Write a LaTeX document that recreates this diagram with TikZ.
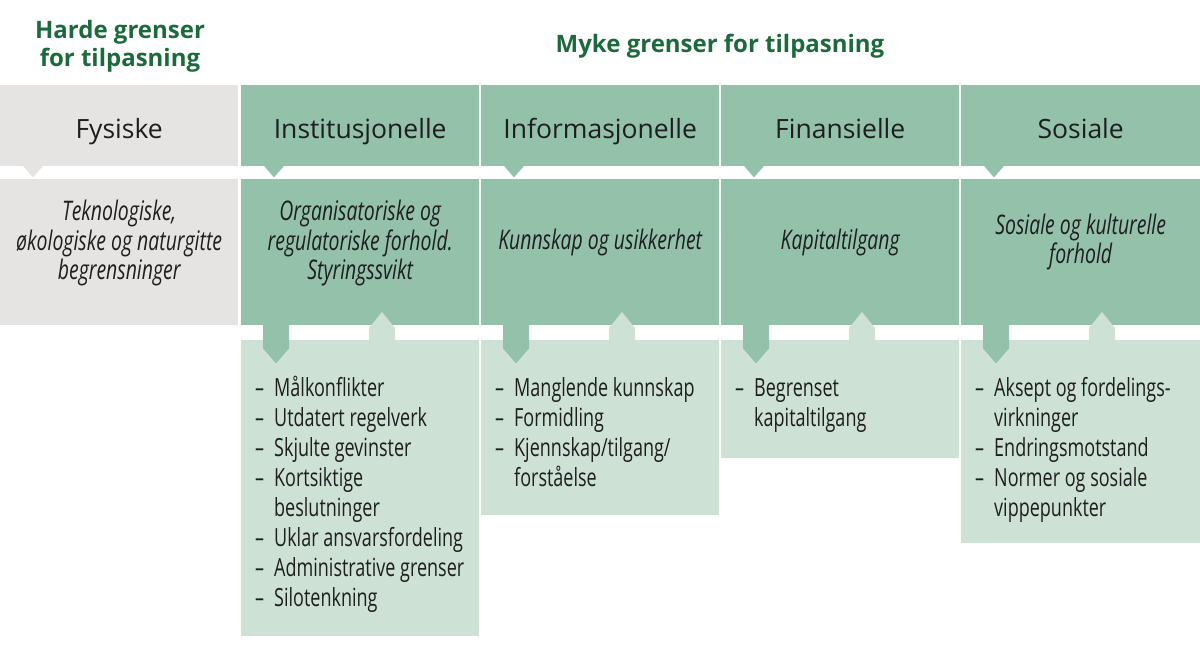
\documentclass[tikz,border=0pt]{standalone}
\usepackage{fontspec}
\setmainfont{Open Sans}
\newfontfamily\condfont[FakeStretch=0.72]{Open Sans}
\usepackage{xcolor}
\usetikzlibrary{positioning,calc}
\definecolor{stone}{HTML}{E5E4E3}
\definecolor{sage}{HTML}{93C1AA}
\definecolor{mint}{HTML}{CDE1D5}
\definecolor{forest}{HTML}{1B6A3B}
\definecolor{ink}{HTML}{1E1E1E}
\tikzset{
  ttl/.style={align=center, font=\bfseries\fontsize{24}{28}\selectfont, text=forest, inner sep=0pt},
  hdr/.style={rectangle, anchor=north west, minimum width=238pt, minimum height=81pt,
              inner sep=0pt, text height=25pt, text depth=0pt,
              font=\fontsize{26.5}{30}\selectfont, text=ink},
  cause/.style={rectangle, anchor=north west, minimum width=238pt, minimum height=146pt, inner sep=0pt},
  causetxt/.style={align=center, font=\condfont\itshape\fontsize{27}{29.5}\selectfont,
                   text=ink, inner sep=0pt},
  lst/.style={rectangle, anchor=north west, fill=mint, minimum width=238pt, inner sep=0pt},
  lsttxt/.style={anchor=north west, align=left, font=\condfont\fontsize{25}{30}\selectfont,
                 text=ink, inner sep=0pt},
}

\begin{document}
\begin{tikzpicture}[x=1pt,y=-1pt]
\useasboundingbox (0,0) rectangle (1200,645);
% titles
\node[ttl] (hard) at (120,46) {Harde grenser\\for tilpasning};
\node[ttl, anchor=base] (soft) at (720,52) {Myke grenser for tilpasning};
% header row
\node[hdr, fill=stone] (h0) at (0,85) {Fysiske};
\node[hdr, fill=sage] (h1) at (241,85) {Institusjonelle};
\node[hdr, fill=sage] (h2) at (481,85) {Informasjonelle};
\node[hdr, fill=sage] (h3) at (721,85) {Finansielle};
\node[hdr, fill=sage, minimum width=239pt] (h4) at (961,85) {Sosiale};
\foreach \n/\c in {h0/stone,h1/sage,h2/sage,h3/sage,h4/sage}
  \fill[\c] ([xshift=23pt,yshift=0.5pt]\n.south west) -- ++(20,0) -- ++(-10,11.5) -- cycle;
% second row
\node[cause, fill=stone] (c0) at (0,179) {};
\node[cause, fill=sage] (c1) at (241,179) {};
\node[cause, fill=sage] (c2) at (481,179) {};
\node[cause, fill=sage] (c3) at (721,179) {};
\node[cause, fill=sage, minimum width=239pt] (c4) at (961,179) {};
\node[causetxt] (t0) at ([yshift=9pt]c0.center) {Teknologiske,\\økologiske og naturgitte\\begrensninger};
\node[causetxt] (t1) at ([yshift=9pt]c1.center) {Organisatoriske og\\regulatoriske forhold.\\Styringssvikt};
\node[causetxt] (t2) at ([yshift=10pt]c2.center) {Kunnskap og usikkerhet};
\node[causetxt] (t3) at ([yshift=10pt]c3.center) {Kapitaltilgang};
\node[causetxt] (t4) at ([yshift=10pt]c4.center) {Sosiale og kulturelle\\forhold};
% third row
\node[lst, minimum height=296pt] (l1) at (241,340) {};
\node[lst, minimum height=175pt] (l2) at (481,340) {};
\node[lst, minimum height=118pt] (l3) at (721,340) {};
\node[lst, minimum height=203pt, minimum width=239pt] (l4) at (961,340) {};
\foreach \n in {1,...,4} {
  \fill[sage] ([xshift=22pt,yshift=0.5pt]c\n.south west) -- ++(26,0) -- ++(0,23.5)
    -- ++(-13,15) -- ++(-13,-15) -- cycle;
  \fill[mint] ([xshift=128pt,yshift=-0.5pt]l\n.north west) -- ++(0,-12.5) -- ++(13,-16)
    -- ++(13,16) -- ++(0,12.5) -- cycle;
}
\node[lsttxt] (i1) at ([xshift=14pt,yshift=-35pt]l1.north west) {%
  \begin{tabular}{@{}p{19pt}@{}l@{}}
  – & Målkonflikter\\ – & Utdatert regelverk\\ – & Skjulte gevinster\\
  – & Kortsiktige\\ & beslutninger\\ – & Uklar ansvarsfordeling\\
  – & Administrative grenser\\ – & Silotenkning
  \end{tabular}};
\node[lsttxt] (i2) at ([xshift=14pt,yshift=-35pt]l2.north west) {%
  \begin{tabular}{@{}p{19pt}@{}l@{}}
  – & Manglende kunnskap\\ – & Formidling\\ – & Kjennskap/tilgang/\\ & forståelse
  \end{tabular}};
\node[lsttxt] (i3) at ([xshift=14pt,yshift=-35pt]l3.north west) {%
  \begin{tabular}{@{}p{19pt}@{}l@{}}
  – & Begrenset\\ & kapitaltilgang
  \end{tabular}};
\node[lsttxt] (i4) at ([xshift=14pt,yshift=-35pt]l4.north west) {%
  \begin{tabular}{@{}p{19pt}@{}l@{}}
  – & Aksept og fordelings-\\ & virkninger\\ – & Endringsmotstand\\
  – & Normer og sosiale\\ & vippepunkter
  \end{tabular}};
\end{tikzpicture}
\end{document}
